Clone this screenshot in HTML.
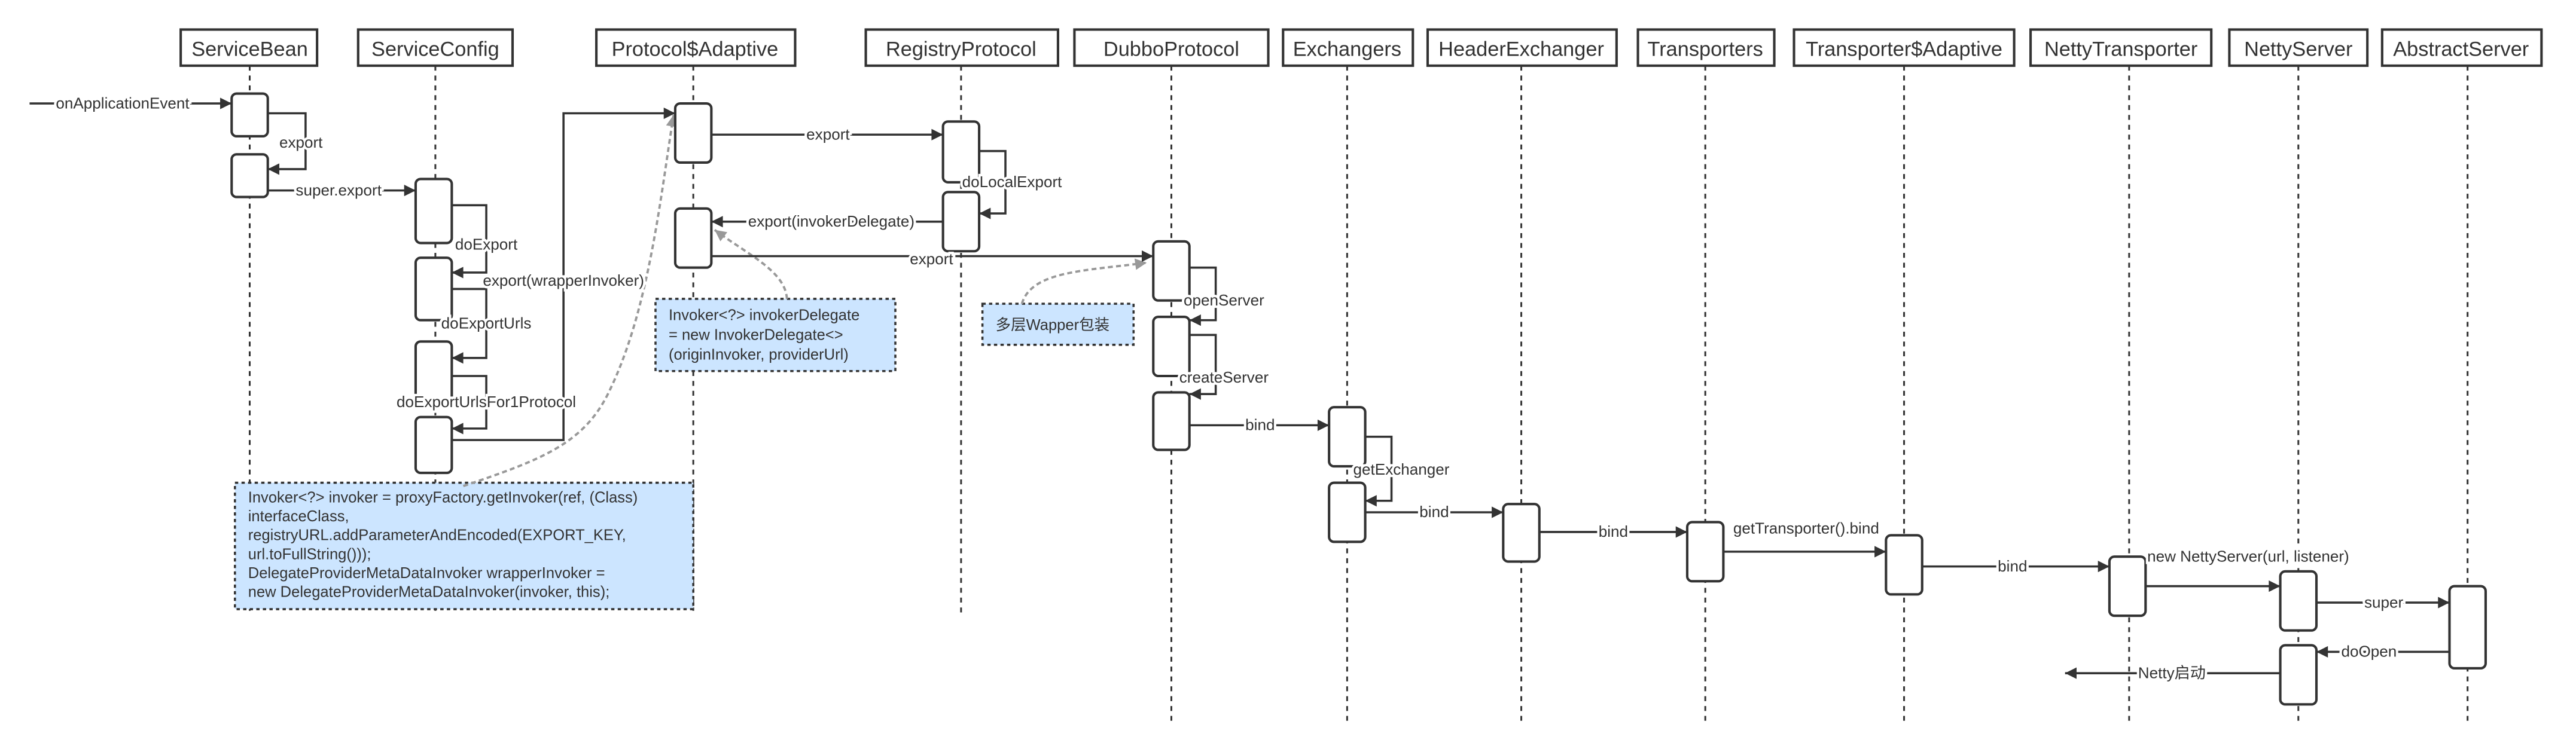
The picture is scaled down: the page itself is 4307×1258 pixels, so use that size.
<!DOCTYPE html>
<html><head><meta charset="utf-8"><style>
html,body{margin:0;padding:0;background:#fff;}
svg{display:block;}
text{font-family:"Liberation Sans","Noto Sans CJK SC",sans-serif;fill:#333;}
.h{font-size:12.5px;text-anchor:middle;}
.l{font-size:9.5px;}
.n{font-size:9.3px;}
</style></head><body>
<svg width="4307" height="1258" viewBox="0 0 1568 458" preserveAspectRatio="none" xmlns="http://www.w3.org/2000/svg">
<defs>
<marker id="a" viewBox="0 0 10 10" refX="10" refY="5" markerWidth="9" markerHeight="7" markerUnits="userSpaceOnUse" orient="auto"><path d="M0,0L10,5L0,10z" fill="#333"/></marker>
<marker id="g" viewBox="0 0 10 10" refX="10" refY="5" markerWidth="9" markerHeight="7" markerUnits="userSpaceOnUse" orient="auto"><path d="M0,0L10,5L0,10z" fill="#999"/></marker>
</defs>
<rect width="1568" height="458" fill="#fff"/>
<g stroke="#333" stroke-width="1.1" stroke-dasharray="3,3" fill="none">
<line x1="152" y1="40" x2="152" y2="372"/>
<line x1="265" y1="40" x2="265" y2="372"/>
<line x1="422" y1="40" x2="422" y2="372"/>
<line x1="585" y1="40" x2="585" y2="373"/>
<line x1="713" y1="40" x2="713" y2="440"/>
<line x1="820" y1="40" x2="820" y2="440"/>
<line x1="926" y1="40" x2="926" y2="440"/>
<line x1="1038" y1="40" x2="1038" y2="440"/>
<line x1="1159" y1="40" x2="1159" y2="440"/>
<line x1="1296" y1="40" x2="1296" y2="440"/>
<line x1="1399" y1="40" x2="1399" y2="440"/>
<line x1="1502" y1="40" x2="1502" y2="440"/>
</g>
<g fill="#fff" stroke="#333" stroke-width="1.5">
<rect x="110" y="18" width="83" height="22"/>
<rect x="218" y="18" width="94" height="22"/>
<rect x="363" y="18" width="121" height="22"/>
<rect x="527" y="18" width="117" height="22"/>
<rect x="654" y="18" width="118" height="22"/>
<rect x="781" y="18" width="79" height="22"/>
<rect x="869" y="18" width="115" height="22"/>
<rect x="997" y="18" width="83" height="22"/>
<rect x="1092" y="18" width="134" height="22"/>
<rect x="1236" y="18" width="110" height="22"/>
<rect x="1357" y="18" width="84" height="22"/>
<rect x="1450" y="18" width="97" height="22"/>
</g>
<g>
<text class="h" x="152" y="34">ServiceBean</text>
<text class="h" x="265" y="34">ServiceConfig</text>
<text class="h" x="423" y="34">Protocol$Adaptive</text>
<text class="h" x="585" y="34">RegistryProtocol</text>
<text class="h" x="713" y="34">DubboProtocol</text>
<text class="h" x="820" y="34">Exchangers</text>
<text class="h" x="926" y="34">HeaderExchanger</text>
<text class="h" x="1038" y="34">Transporters</text>
<text class="h" x="1159" y="34">Transporter$Adaptive</text>
<text class="h" x="1291" y="34">NettyTransporter</text>
<text class="h" x="1399" y="34">NettyServer</text>
<text class="h" x="1498" y="34">AbstractServer</text>
</g>
<g stroke="#333" stroke-width="1.3" stroke-dasharray="2,2" fill="#cce5ff">
<rect x="143" y="294" width="279" height="77"/>
<rect x="399" y="182" width="146" height="44"/>
<rect x="598" y="185" width="92" height="25"/>
</g>
<g>
<text class="n" x="151" y="306">Invoker&lt;?&gt; invoker = proxyFactory.getInvoker(ref, (Class)</text>
<text class="n" x="151" y="317.5">interfaceClass,</text>
<text class="n" x="151" y="329">registryURL.addParameterAndEncoded(EXPORT_KEY,</text>
<text class="n" x="151" y="340.5">url.toFullString()));</text>
<text class="n" x="151" y="352">DelegateProviderMetaDataInvoker wrapperInvoker =</text>
<text class="n" x="151" y="363.5">new DelegateProviderMetaDataInvoker(invoker, this);</text>
<text class="n" x="407" y="195">Invoker&lt;?&gt; invokerDelegate</text>
<text class="n" x="407" y="207">= new InvokerDelegate&lt;&gt;</text>
<text class="n" x="407" y="219">(originInvoker, providerUrl)</text>
<text class="n" x="606" y="201">多层Wapper包装</text>
</g>
<g stroke="#999" stroke-width="1.4" stroke-dasharray="3,2" fill="none">
<path d="M282,296 C330,280 355,270 370,240 C395,190 402,120 410,70" marker-end="url(#g)"/>
<path d="M479,182 C478,165 455,155 435,140" marker-end="url(#g)"/>
<path d="M622,185 C628,165 660,165 698,160" marker-end="url(#g)"/>
</g>
<g fill="#fff" stroke="#333" stroke-width="1.5">
<rect x="141" y="57" width="22" height="26" rx="3"/>
<rect x="141" y="94" width="22" height="26" rx="3"/>
<rect x="253" y="109" width="22" height="39" rx="3"/>
<rect x="253" y="157" width="22" height="38" rx="3"/>
<rect x="253" y="208" width="22" height="37" rx="3"/>
<rect x="253" y="254" width="22" height="34" rx="3"/>
<rect x="411" y="63" width="22" height="36" rx="3"/>
<rect x="411" y="127" width="22" height="36" rx="3"/>
<rect x="574" y="74" width="22" height="37" rx="3"/>
<rect x="574" y="117" width="22" height="36" rx="3"/>
<rect x="702" y="147" width="22" height="36" rx="3"/>
<rect x="702" y="193" width="22" height="36" rx="3"/>
<rect x="702" y="239" width="22" height="35" rx="3"/>
<rect x="809" y="248" width="22" height="36" rx="3"/>
<rect x="809" y="294" width="22" height="36" rx="3"/>
<rect x="915" y="307" width="22" height="35" rx="3"/>
<rect x="1027" y="318" width="22" height="36" rx="3"/>
<rect x="1148" y="326" width="22" height="36" rx="3"/>
<rect x="1284" y="339" width="22" height="36" rx="3"/>
<rect x="1388" y="348" width="22" height="36" rx="3"/>
<rect x="1388" y="393" width="22" height="36" rx="3"/>
<rect x="1491" y="357" width="22" height="50" rx="3"/>
</g>
<g stroke="#333" stroke-width="1.3" fill="none">
<path d="M18,63H141" marker-end="url(#a)"/>
<path d="M163,69H186V103H163" marker-end="url(#a)"/>
<path d="M163,116H253" marker-end="url(#a)"/>
<path d="M275,125H296V166H275" marker-end="url(#a)"/>
<path d="M275,176H296V218H275" marker-end="url(#a)"/>
<path d="M275,229H296V261H275" marker-end="url(#a)"/>
<path d="M275,268H343V69H411" marker-end="url(#a)"/>
<path d="M433,82H574" marker-end="url(#a)"/>
<path d="M596,92H612V130H596" marker-end="url(#a)"/>
<path d="M574,135H433" marker-end="url(#a)"/>
<path d="M433,156H702" marker-end="url(#a)"/>
<path d="M724,163H740V195H724" marker-end="url(#a)"/>
<path d="M724,204H740V240H724" marker-end="url(#a)"/>
<path d="M724,259H809" marker-end="url(#a)"/>
<path d="M831,266H847V305H831" marker-end="url(#a)"/>
<path d="M831,312H915" marker-end="url(#a)"/>
<path d="M937,324H1027" marker-end="url(#a)"/>
<path d="M1049,336H1148" marker-end="url(#a)"/>
<path d="M1170,345H1284" marker-end="url(#a)"/>
<path d="M1306,357H1388" marker-end="url(#a)"/>
<path d="M1410,367H1491" marker-end="url(#a)"/>
<path d="M1491,397H1410" marker-end="url(#a)"/>
<path d="M1388,410H1257" marker-end="url(#a)"/>
</g>
<g style="paint-order:stroke" stroke="#fff" stroke-width="3">
<text class="l" x="34" y="66">onApplicationEvent</text>
<text class="l" x="170" y="90">export</text>
<text class="l" x="180" y="119">super.export</text>
<text class="l" x="296" y="152" text-anchor="middle">doExport</text>
<text class="l" x="343" y="174" text-anchor="middle">export(wrapperInvoker)</text>
<text class="l" x="296" y="200" text-anchor="middle">doExportUrls</text>
<text class="l" x="296" y="248" text-anchor="middle">doExportUrlsFor1Protocol</text>
<text class="l" x="504" y="85" text-anchor="middle">export</text>
<text class="l" x="616" y="114" text-anchor="middle">doLocalExport</text>
<text class="l" x="506" y="138" text-anchor="middle">export(invokerDelegate)</text>
<text class="l" x="567" y="161" text-anchor="middle">export</text>
<text class="l" x="745" y="186" text-anchor="middle">openServer</text>
<text class="l" x="745" y="233" text-anchor="middle">createServer</text>
<text class="l" x="767" y="262" text-anchor="middle">bind</text>
<text class="l" x="853" y="289" text-anchor="middle">getExchanger</text>
<text class="l" x="873" y="315" text-anchor="middle">bind</text>
<text class="l" x="982" y="327" text-anchor="middle">bind</text>
<text class="l" x="1055" y="325">getTransporter().bind</text>
<text class="l" x="1225" y="348" text-anchor="middle">bind</text>
<text class="l" x="1307" y="342">new NettyServer(url, listener)</text>
<text class="l" x="1451" y="370" text-anchor="middle">super</text>
<text class="l" x="1442" y="400" text-anchor="middle">doOpen</text>
<text class="l" x="1322" y="413" text-anchor="middle">Netty启动</text>
</g>
</svg>
</body></html>
